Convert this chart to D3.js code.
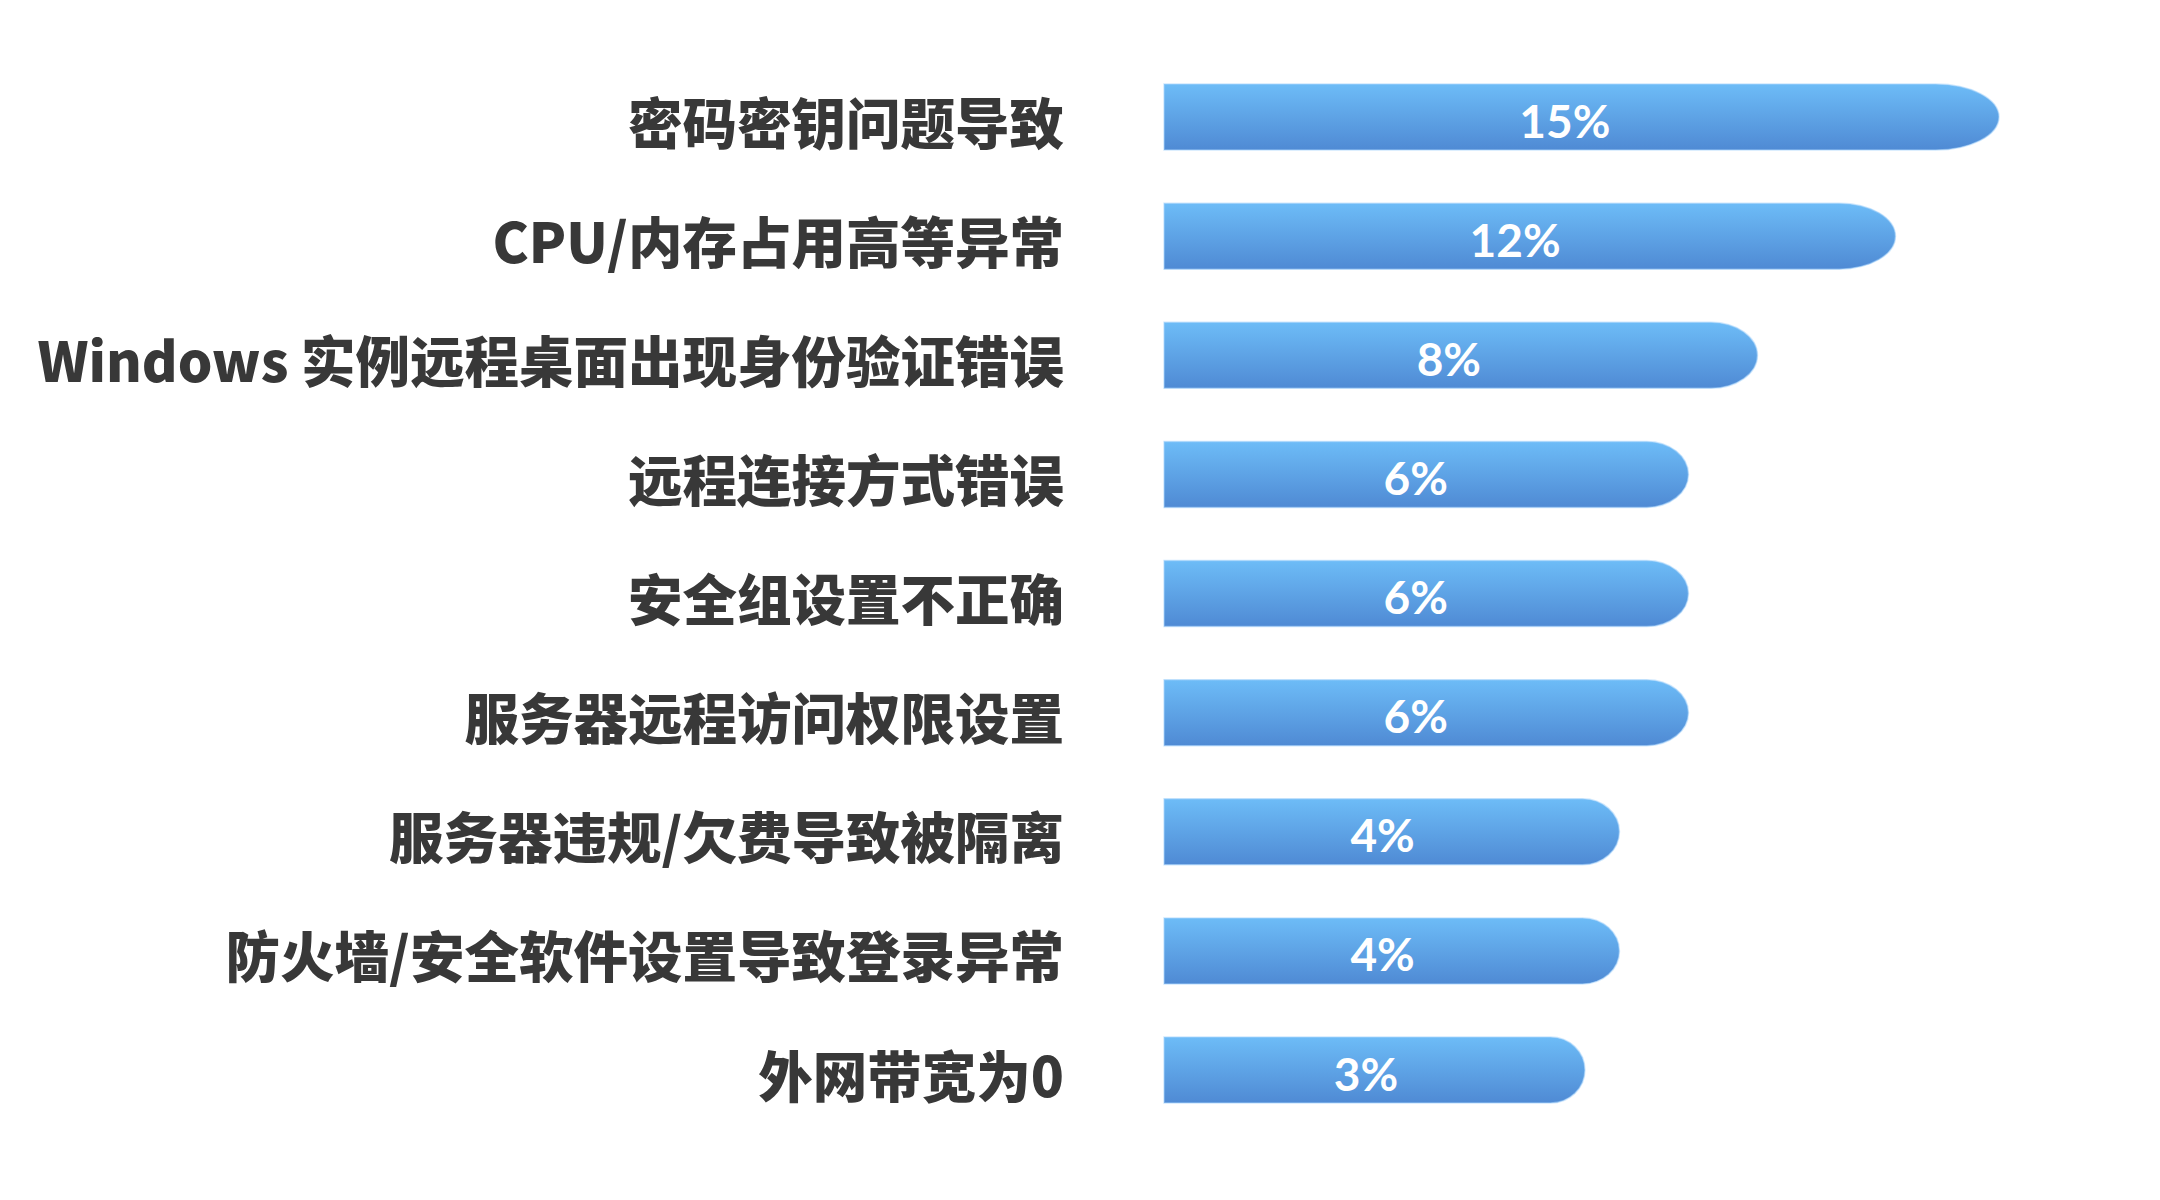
<!DOCTYPE html>
<html>
<head>
<meta charset="utf-8">
<script src="https://cdn.jsdelivr.net/npm/d3@7"></script>
<style>
  html, body { margin: 0; padding: 0; background: #ffffff; }
  svg { display: block; }
</style>
</head>
<body>
<svg id="chart" width="2160" height="1200"></svg>
<script>
// ---- data ----
const categories = [
  "密码密钥问题导致",
  "CPU/内存占用高等异常",
  "Windows 实例远程桌面出现身份验证错误",
  "远程连接方式错误",
  "安全组设置不正确",
  "服务器远程访问权限设置",
  "服务器违规/欠费导致被隔离",
  "防火墙/安全软件设置导致登录异常",
  "外网带宽为0"
];
const values = [15, 12, 8, 6, 6, 6, 4, 4, 3];
const valueLabels = ["15%", "12%", "8%", "6%", "6%", "6%", "4%", "4%", "3%"];

// ---- layout ----
const svg = d3.select("#chart");
const barLeft = 1164;
const barHeight = 66;

const x = d3.scaleLinear().domain([-9.2, 15]).range([barLeft, 1999]);
const y = d3.scalePoint().domain(categories).range([117, 1070]);

const defs = svg.append("defs");
const grad = defs.append("linearGradient")
  .attr("id", "barGrad").attr("x1", 0).attr("y1", 0).attr("x2", 0).attr("y2", 1);
grad.append("stop").attr("offset", "0%").attr("stop-color", "#6dbcf7");
grad.append("stop").attr("offset", "100%").attr("stop-color", "#4f8ad4");

const data = categories.map((c, i) => ({ cat: c, value: values[i], label: valueLabels[i] }));
const x0 = x(x.domain()[0]);

function barPath(d) {
  const x1 = x(d.value);
  const len = x1 - x0;
  const ry = barHeight / 2;
  const rx = Math.min(len / 2, 0.07 * len + 5);
  const y0 = y(d.cat) - ry;
  return `M${x0},${y0} L${x1 - rx},${y0} A${rx},${ry} 0 0 1 ${x1 - rx},${y0 + barHeight} L${x0},${y0 + barHeight} Z`;
}

const g = svg.append("g");

g.selectAll("path.bar")
  .data(data)
  .join("path")
  .attr("class", "bar")
  .attr("d", barPath)
  .attr("fill", "url(#barGrad)")
  .attr("stroke", "#a9d6fb")
  .attr("stroke-opacity", 0.55)
  .attr("stroke-width", 1.5);

// value labels
g.selectAll("text.val")
  .data(data)
  .join("text")
  .attr("class", "val")
  .attr("x", d => x0 + (x(d.value) - x0) * 0.48)
  .attr("y", d => y(d.cat) + 3)
  .attr("text-anchor", "middle")
  .attr("dominant-baseline", "central")
  .attr("font-family", "Lato, 'Open Sans', sans-serif")
  .attr("font-weight", 700)
  .attr("font-size", 46)
  .attr("fill", "#ffffff")
  .text(d => d.label);

// category labels
g.selectAll("text.cat")
  .data(data)
  .join("text")
  .attr("class", "cat")
  .attr("x", 1064)
  .attr("y", d => y(d.cat) + 3)
  .attr("text-anchor", "end")
  .attr("dominant-baseline", "central")
  .attr("font-family", "'Noto Sans CJK SC', 'Noto Sans', sans-serif")
  .attr("font-weight", 900)
  .attr("font-size", 54.5)
  .attr("fill", "#383838")
  .text(d => d.cat);
</script>
</body>
</html>
